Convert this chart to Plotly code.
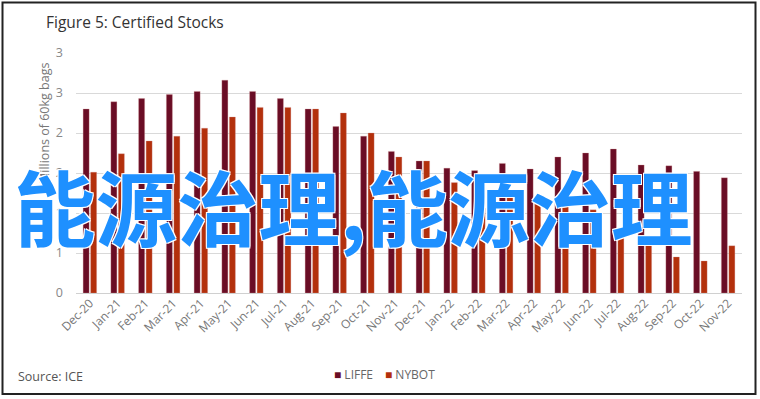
import plotly.graph_objects as go

months = ["Dec-20", "Jan-21", "Feb-21", "Mar-21", "Apr-21", "May-21", "Jun-21", "Jul-21",
          "Aug-21", "Sep-21", "Oct-21", "Nov-21", "Dec-21", "Jan-22", "Feb-22", "Mar-22",
          "Apr-22", "May-22", "Jun-22", "Jul-22", "Aug-22", "Sep-22", "Oct-22", "Nov-22"]
liffe = [2.30, 2.39, 2.43, 2.48, 2.52, 2.66, 2.52, 2.43, 2.30, 2.08, 1.96, 1.77,
         1.65, 1.56, 1.53, 1.62, 1.55, 1.70, 1.75, 1.80, 1.60, 1.59, 1.52, 1.44]
nybot = [1.51, 1.74, 1.90, 1.96, 2.06, 2.20, 2.32, 2.32, 2.30, 2.25, 2.00, 1.70,
         1.65, 1.38, 1.06, 1.22, 1.15, 1.10, 1.04, 0.72, 0.65, 0.45, 0.40, 0.59]
y_tickvals = [0, 0.5, 1.0, 1.5, 2.0, 2.5, 3.0]
y_ticktext = ["0", "1", "1", "2", "2", "3", "3"]
series_names = ["LIFFE", "NYBOT"]
series_colors = ["#6A0D25", "#B3300C"]

W, H = 760, 399
L, R, T, B = 76, 18, 53, 106
PW, PH = W - L - R, H - T - B


def px(x):
    return (x - L) / PW


def py(y):
    return (H - B - y) / PH


fig = go.Figure()
for name, vals, col in zip(series_names, [liffe, nybot], series_colors):
    fig.add_trace(go.Bar(x=months, y=vals, name=name, marker=dict(color=col,
                         line=dict(color="rgba(210,150,150,0.6)", width=0.5))))

legend_anns = []
for name, col, xpos in zip(series_names, series_colors, [332, 383]):
    legend_anns.append(dict(
        text=f"<span style='color:{col}'>■</span> {name}", xref="paper", yref="paper",
        x=px(xpos), y=py(374), xanchor="left", yanchor="middle", showarrow=False,
        font=dict(size=12, color="#666")))

fig.update_layout(
    width=W, height=H,
    margin=dict(l=L, r=R, t=T, b=B, autoexpand=False),
    paper_bgcolor="white", plot_bgcolor="white",
    barmode="group", bargap=0.46, bargroupgap=0.2,
    font=dict(family="Open Sans, Noto Sans, sans-serif", color="#777", size=11),
    showlegend=False,
    xaxis=dict(type="category", tickangle=-45, showgrid=False, showline=False, ticks="",
               tickfont=dict(size=12, color="#777"), automargin=False),
    yaxis=dict(range=[0, 3.0], tickvals=y_tickvals, ticktext=y_ticktext, showgrid=True,
               gridcolor="#d9d9d9", gridwidth=1, zeroline=True, zerolinecolor="#d0d0d0",
               zerolinewidth=1, showline=False, ticks="", ticklabelstandoff=12,
               tickfont=dict(size=12.5, color="#888"), automargin=False),
    annotations=[
        dict(text="Figure 5: Certified Stocks", xref="paper", yref="paper", x=px(44), y=py(22),
             xanchor="left", yanchor="middle", showarrow=False,
             font=dict(size=15.5, color="#333")),
        dict(text="Millions of 60kg bags", xref="paper", yref="paper", x=px(45), y=py(123),
             xanchor="center", yanchor="middle", textangle=-90, showarrow=False,
             font=dict(size=12.5, color="#777")),
        dict(text="Source: ICE", xref="paper", yref="paper", x=px(16), y=py(376),
             xanchor="left", yanchor="middle", showarrow=False,
             font=dict(size=12.5, color="#555")),
    ] + legend_anns + [
        dict(text="能源治理,能源治理", xref="paper", yref="paper", x=px(353), y=py(204),
             xanchor="center", yanchor="middle", showarrow=False,
             font=dict(size=81.5, color="#1E90FF", family="Noto Sans CJK SC", weight="bold",
                       shadow="1px 1px 0 #fff, -1px -1px 0 #fff, 1px -1px 0 #fff, -1px 1px 0 #fff")),
    ],
    shapes=[
        dict(type="rect", xref="paper", yref="paper", x0=px(2.5), x1=px(755.5),
             y0=py(394), y1=py(2.5), line=dict(color="#222", width=2), fillcolor="rgba(0,0,0,0)",
             layer="above"),
    ],
)

fig.write_html("out.html", config={"displayModeBar": False},
               post_script="document.body.style.margin='0';")
